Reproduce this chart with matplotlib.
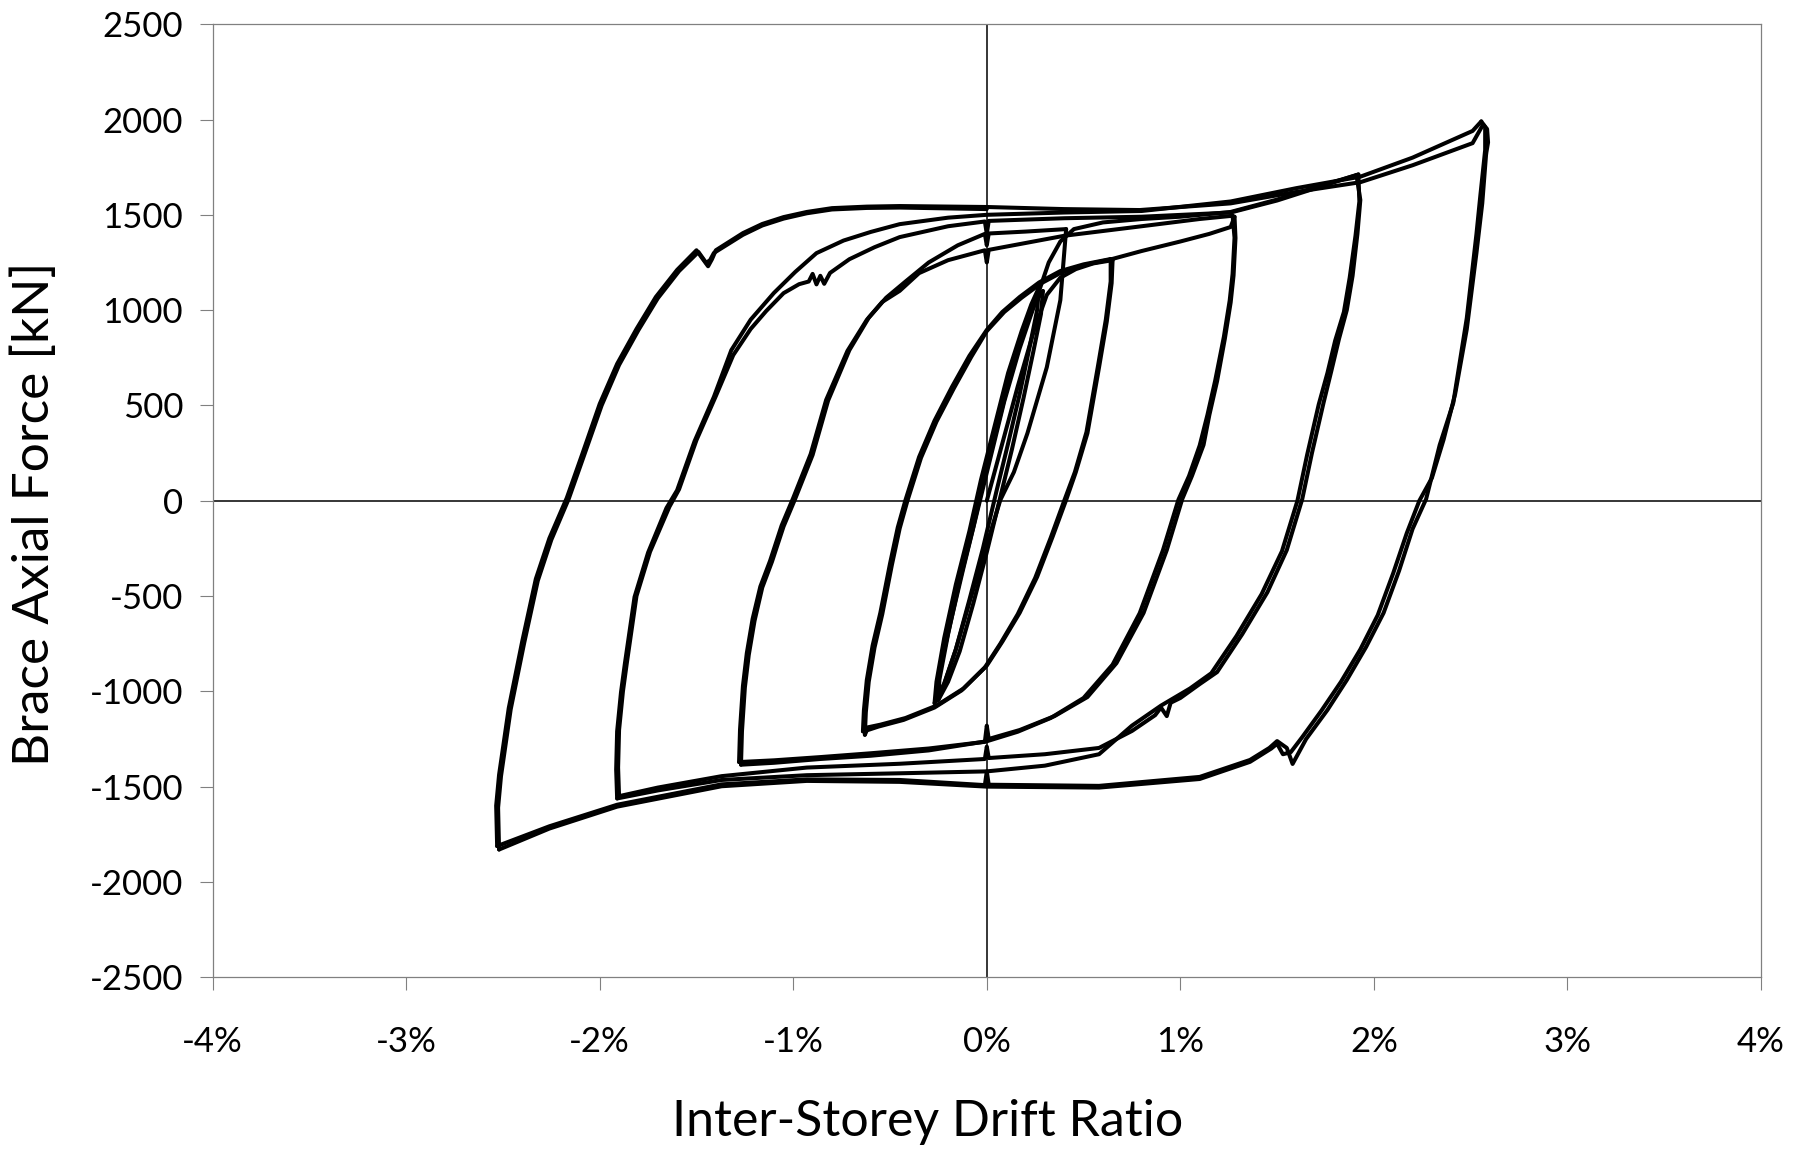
import matplotlib
matplotlib.use("Agg")
import matplotlib.pyplot as plt

plt.rcParams["font.family"] = ["Lato", "DejaVu Sans"]

# Brace hysteresis: (drift [%], axial force [kN])
# ── elastic cycles ──
A1_DOWN = [(0.27, 1120), (0.26, 1000), (0.22, 800), (0.17, 560), (0.11, 300), (0.05, 50),
           (-0.02, -250), (-0.09, -520), (-0.16, -780), (-0.22, -960), (-0.27, -1062)]
A1_UP = [(-0.27, -1062), (-0.26, -950), (-0.22, -720), (-0.16, -440), (-0.09, -160), (-0.03, 110),
         (0.04, 390), (0.11, 670), (0.18, 890), (0.23, 1030), (0.27, 1120)]
A2_DOWN = [(0.29, 1100), (0.28, 980), (0.24, 780), (0.19, 540), (0.13, 270), (0.07, 20),
           (0.0, -270), (-0.07, -540), (-0.14, -790), (-0.20, -950), (-0.25, -1045)]
A2_UP = [(-0.25, -1045), (-0.245, -940), (-0.20, -700), (-0.14, -420), (-0.07, -140), (-0.01, 130),
         (0.06, 410), (0.13, 690), (0.20, 910), (0.25, 1040), (0.29, 1100)]

# ── +/-0.64 % ──
B1_LOAD = [(0.0, 0), (0.08, 300), (0.16, 600), (0.24, 880), (0.31, 1080), (0.38, 1170),
           (0.46, 1215), (0.55, 1245), (0.65, 1262)]
B1_DOWN = [(0.65, 1262), (0.645, 1141), (0.62, 940), (0.58, 700), (0.52, 354), (0.46, 150),
           (0.41, 4), (0.34, -189), (0.26, -400), (0.17, -588), (0.08, -740), (0.0, -865),
           (-0.12, -985), (-0.26, -1075), (-0.42, -1140), (-0.55, -1175), (-0.62, -1190), (-0.64, -1210)]
B1_UP = [(-0.64, -1210), (-0.635, -1100), (-0.62, -941), (-0.59, -760), (-0.55, -588), (-0.50, -330),
         (-0.46, -140), (-0.42, 4), (-0.35, 229), (-0.27, 420), (-0.18, 597), (-0.09, 760), (0.0, 896),
         (0.08, 990), (0.17, 1069), (0.27, 1145), (0.38, 1205), (0.50, 1240), (0.64, 1268)]
B2_DOWN = [(0.64, 1268), (0.64, 1150), (0.615, 950), (0.575, 710), (0.515, 360), (0.455, 150),
           (0.40, 0), (0.33, -195), (0.25, -405), (0.16, -595), (0.07, -750), (-0.01, -875),
           (-0.13, -995), (-0.27, -1085), (-0.43, -1150), (-0.56, -1185), (-0.62, -1205), (-0.63, -1228)]
B2_UP = [(-0.63, -1228), (-0.625, -1110), (-0.61, -950), (-0.58, -770), (-0.54, -595), (-0.49, -335),
         (-0.45, -145), (-0.41, 0), (-0.34, 225), (-0.26, 415), (-0.17, 590), (-0.08, 755), (0.0, 890),
         (0.09, 990), (0.18, 1065), (0.28, 1140), (0.39, 1200), (0.51, 1238), (0.64, 1266), (0.80, 1310),
         (1.00, 1360), (1.15, 1400), (1.26, 1436), (1.28, 1490)]

# ── +/-1.27 % ──
C1_DOWN = [(1.28, 1490), (1.285, 1378), (1.275, 1182), (1.26, 1040), (1.23, 850), (1.19, 628),
           (1.15, 450), (1.12, 293), (1.06, 130), (1.01, 9), (0.93, -259), (0.81, -589), (0.67, -852),
           (0.52, -1030), (0.35, -1130), (0.17, -1203), (0.01, -1250), (0.0, -1180), (-0.01, -1265),
           (-0.3, -1300), (-0.6, -1325), (-0.86, -1345), (-1.1, -1362), (-1.28, -1371)]
C1_UP = [(-1.28, -1371), (-1.275, -1200), (-1.26, -972), (-1.24, -800), (-1.21, -620), (-1.17, -450),
         (-1.12, -316), (-1.06, -130), (-1.00, 15), (-0.91, 245), (-0.83, 529), (-0.72, 786),
         (-0.62, 949), (-0.54, 1043), (-0.45, 1101), (-0.35, 1194), (-0.2, 1262), (-0.01, 1314),
         (0.0, 1250), (0.01, 1316), (0.4, 1390), (0.8, 1440), (1.1, 1478), (1.27, 1495)]
C2_DOWN = [(1.27, 1495), (1.28, 1380), (1.27, 1190), (1.255, 1050), (1.225, 860), (1.18, 630),
           (1.14, 450), (1.10, 290), (1.045, 130), (0.99, 5), (0.91, -260), (0.79, -590), (0.65, -860),
           (0.50, -1035), (0.33, -1140), (0.16, -1212), (0.0, -1262), (-0.3, -1310), (-0.6, -1338),
           (-0.86, -1355), (-1.1, -1375), (-1.27, -1385)]
C2_UP = [(-1.27, -1385), (-1.265, -1210), (-1.25, -980), (-1.23, -810), (-1.20, -630), (-1.16, -455),
         (-1.11, -320), (-1.05, -135), (-0.99, 10), (-0.90, 240), (-0.82, 525), (-0.71, 790),
         (-0.61, 960), (-0.52, 1065), (-0.42, 1150), (-0.30, 1250), (-0.15, 1340), (-0.01, 1400),
         (0.0, 1340), (0.01, 1402), (0.2, 1412), (0.41, 1425)]
R_UNLOAD = [(0.41, 1425), (0.40, 1300), (0.38, 1052), (0.31, 700), (0.21, 354), (0.14, 150),
            (0.07, 4), (0.0, -230), (-0.08, -500), (-0.16, -780), (-0.22, -960), (-0.26, -1050)]

# ── +/-1.9 % ──
D1_LOAD = [(-0.26, -1050), (-0.25, -920), (-0.19, -650), (-0.12, -350), (-0.05, -60), (0.02, 230),
           (0.09, 520), (0.17, 800), (0.25, 1040), (0.32, 1250), (0.38, 1360), (0.45, 1425),
           (0.6, 1460), (0.8, 1478), (1.0, 1490), (1.26, 1515), (1.5, 1580), (1.7, 1645), (1.91, 1708)]
D1_DOWN = [(1.91, 1708), (1.93, 1578), (1.915, 1400), (1.89, 1180), (1.86, 1000), (1.82, 850),
           (1.78, 680), (1.74, 514), (1.68, 250), (1.63, 9), (1.55, -259), (1.45, -480), (1.32, -700),
           (1.19, -899), (1.10, -962), (1.00, -1035), (0.95, -1060), (0.93, -1130), (0.90, -1085),
           (0.87, -1125), (0.75, -1208), (0.58, -1297), (0.3, -1330), (0.01, -1350), (0.0, -1290),
           (-0.01, -1355), (-0.45, -1380), (-0.93, -1400), (-1.37, -1445), (-1.7, -1505), (-1.90, -1550)]
D1_UP = [(-1.90, -1550), (-1.905, -1400), (-1.90, -1203), (-1.88, -1000), (-1.86, -852), (-1.81, -500),
         (-1.74, -268), (-1.64, -32), (-1.59, 60), (-1.50, 318), (-1.40, 549), (-1.31, 764),
         (-1.22, 901), (-1.14, 995), (-1.05, 1089), (-0.97, 1136), (-0.92, 1150), (-0.90, 1190),
         (-0.88, 1135), (-0.86, 1180), (-0.84, 1138), (-0.81, 1195), (-0.71, 1267), (-0.58, 1330),
         (-0.45, 1383), (-0.2, 1440), (-0.01, 1465), (0.0, 1400), (0.01, 1468), (0.4, 1482), (0.8, 1490),
         (1.26, 1512), (1.5, 1575), (1.7, 1640), (1.92, 1712)]
D2_DOWN = [(1.92, 1712), (1.925, 1570), (1.905, 1390), (1.875, 1170), (1.845, 990), (1.80, 840),
           (1.76, 670), (1.715, 505), (1.655, 240), (1.605, 0), (1.525, -265), (1.42, -490),
           (1.29, -710), (1.16, -905), (1.05, -985), (0.90, -1075), (0.75, -1180), (0.58, -1330),
           (0.3, -1390), (0.0, -1420), (-0.45, -1430), (-0.93, -1440), (-1.37, -1465), (-1.7, -1520),
           (-1.91, -1562)]
D2_UP = [(-1.91, -1562), (-1.915, -1410), (-1.91, -1210), (-1.89, -1005), (-1.87, -855), (-1.82, -505),
         (-1.75, -272), (-1.655, -38), (-1.60, 55), (-1.51, 312), (-1.41, 545), (-1.32, 790),
         (-1.22, 950), (-1.10, 1090), (-0.99, 1200), (-0.88, 1299), (-0.74, 1365), (-0.6, 1410),
         (-0.45, 1451), (-0.2, 1485), (0.0, 1500), (0.4, 1512), (0.8, 1520), (1.26, 1570), (1.6, 1640),
         (1.93, 1700), (2.2, 1800), (2.51, 1940), (2.555, 1990)]

# ── +/-2.55 % ──
E1_DOWN = [(2.555, 1990), (2.575, 1960), (2.575, 1840), (2.55, 1600), (2.53, 1399), (2.48, 958),
           (2.41, 512), (2.34, 292), (2.27, 9), (2.20, -148), (2.13, -368), (2.05, -589), (1.96, -767),
           (1.86, -941), (1.76, -1098), (1.65, -1250), (1.58, -1381), (1.55, -1297), (1.50, -1261),
           (1.46, -1297), (1.36, -1360), (1.10, -1449), (0.58, -1496), (0.01, -1490), (0.0, -1420),
           (-0.01, -1492), (-0.45, -1465), (-0.93, -1462), (-1.37, -1488), (-1.91, -1595),
           (-2.26, -1708), (-2.53, -1812)]
E1_UP = [(-2.53, -1812), (-2.535, -1600), (-2.52, -1438), (-2.47, -1088), (-2.40, -736), (-2.33, -410),
         (-2.26, -197), (-2.17, 15), (-2.09, 245), (-2.00, 508), (-1.91, 718), (-1.81, 901),
         (-1.71, 1069), (-1.60, 1211), (-1.50, 1314), (-1.44, 1230), (-1.42, 1267), (-1.40, 1314),
         (-1.26, 1404), (-1.16, 1452), (-1.05, 1488), (-0.93, 1515), (-0.80, 1535), (-0.62, 1543),
         (-0.45, 1546), (0.0, 1541), (0.4, 1530), (0.79, 1525), (1.26, 1560), (1.6, 1620), (1.93, 1671),
         (2.2, 1760), (2.51, 1876), (2.54, 1930), (2.565, 1975), (2.585, 1950), (2.59, 1880), (2.58, 1820)]
E2_DOWN = [(2.58, 1820), (2.56, 1560), (2.53, 1300), (2.48, 900), (2.42, 560), (2.36, 320), (2.30, 120),
           (2.235, 0), (2.17, -170), (2.10, -380), (2.02, -600), (1.93, -780), (1.83, -950),
           (1.73, -1100), (1.63, -1240), (1.57, -1320), (1.53, -1330), (1.50, -1275), (1.47, -1300),
           (1.36, -1370), (1.10, -1460), (0.58, -1505), (0.0, -1500), (-0.45, -1475), (-0.93, -1470),
           (-1.37, -1498), (-1.91, -1605), (-2.26, -1720), (-2.52, -1830)]
E2_UP = [(-2.52, -1830), (-2.525, -1610), (-2.51, -1445), (-2.46, -1095), (-2.39, -745), (-2.32, -420),
         (-2.25, -205), (-2.16, 10), (-2.08, 240), (-1.99, 500), (-1.90, 712), (-1.80, 895),
         (-1.70, 1062), (-1.59, 1205), (-1.49, 1305), (-1.45, 1248), (-1.43, 1262), (-1.41, 1300),
         (-1.26, 1395), (-1.16, 1444), (-1.05, 1480), (-0.93, 1508), (-0.80, 1528), (-0.62, 1536),
         (-0.45, 1538), (0.0, 1530)]

BRANCHES = [A1_DOWN, A1_UP, A2_DOWN, A2_UP,
            B1_LOAD, B1_DOWN, B1_UP, B2_DOWN, B2_UP,
            C1_DOWN, C1_UP, C2_DOWN, C2_UP, R_UNLOAD,
            D1_LOAD, D1_DOWN, D1_UP, D2_DOWN, D2_UP,
            E1_DOWN, E1_UP, E2_DOWN, E2_UP]

X_TICKS = [-4, -3, -2, -1, 0, 1, 2, 3, 4]
X_LABELS = ["-4%", "-3%", "-2%", "-1%", "0%", "1%", "2%", "3%", "4%"]
Y_TICKS = [-2500, -2000, -1500, -1000, -500, 0, 500, 1000, 1500, 2000, 2500]

fig = plt.figure(figsize=(18.05, 11.58), dpi=100)
ax = fig.add_axes([0.1178, 0.1561, 0.8578, 0.8230])

ax.axhline(0, color="black", lw=1.1, zorder=1)
ax.axvline(0, color="black", lw=1.1, zorder=1)

for br in BRANCHES:
    xs, fs = zip(*br)
    ax.plot(xs, fs, color="black", lw=2.9, solid_joinstyle="round",
            solid_capstyle="round", zorder=2)

ax.set_xlim(-4, 4)
ax.set_ylim(-2500, 2500)
ax.set_xticks(X_TICKS)
ax.set_xticklabels(X_LABELS)
ax.set_yticks(Y_TICKS)
ax.set_yticklabels([str(v) for v in Y_TICKS])

for sp in ax.spines.values():
    sp.set_color("#808080")
    sp.set_linewidth(0.9)
ax.tick_params(axis="both", direction="out", length=9.2, width=0.8, color="#808080",
               labelsize=25, labelcolor="black")
ax.tick_params(axis="x", pad=26)
ax.tick_params(axis="y", pad=12)

fig.text(0.514, 0.031, "Inter-Storey Drift Ratio", fontsize=36, ha="center", va="center")
fig.text(0.0195, 0.556, "Brace Axial Force [kN]", fontsize=37, rotation=90,
         ha="center", va="center")

fig.savefig("out.png", dpi=100)
